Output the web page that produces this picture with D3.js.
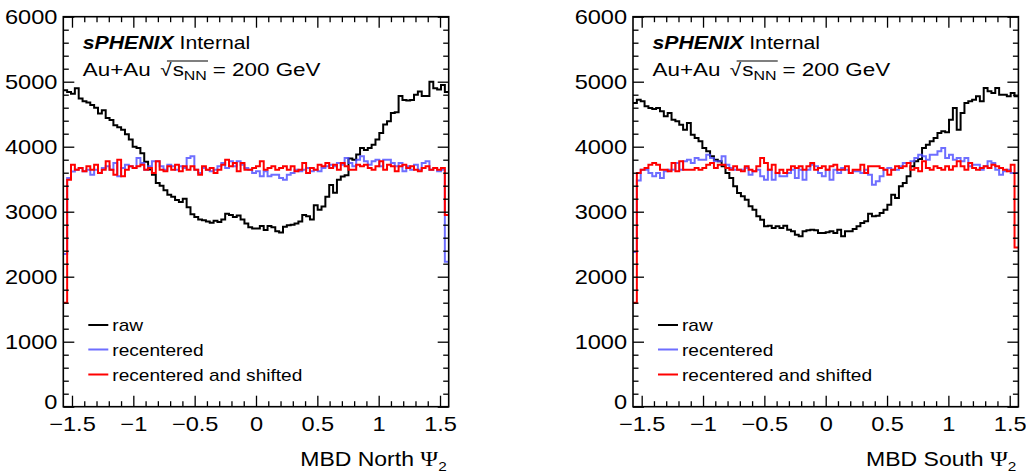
<!DOCTYPE html>
<html><head><meta charset="utf-8">
<script src="https://cdn.jsdelivr.net/npm/d3@7"></script>
<style>
body{margin:0;background:#fff}
svg{display:block}
text{font-family:"Liberation Sans",Arial,Helvetica,sans-serif;fill:#000}
</style>
</head><body><svg id="c" width="1026" height="474"></svg>
<script>
// ---------------- data ----------------
const nBins = 100;
const xRange = [-Math.PI / 2, Math.PI / 2];
const yRange = [0, 6000];
const yTicks = [0, 1000, 2000, 3000, 4000, 5000, 6000];
const yTickLabels = ["0", "1000", "2000", "3000", "4000", "5000", "6000"];
const xTicks = [-1.5, -1, -0.5, 0, 0.5, 1, 1.5];
const xTickLabels = ["\u22121.5", "\u22121", "\u22120.5", "0", "0.5", "1", "1.5"];
const legendLabels = ["raw", "recentered", "recentered and shifted"];
const panelTitles = ["MBD North", "MBD South"];

const northRaw = [4870,4840,4815,4900,4740,4700,4680,4640,4600,4510, 4560,4440,4410,4330,4300,4260,4190,4110,4000,3980,
  3900,3770,3650,3570,3440,3400,3330,3260,3230,3180, 3150,3200,3070,2960,2920,2880,2870,2850,2830,2860,
  2840,2880,2970,2950,2920,2940,2880,2820,2760,2740, 2740,2780,2720,2780,2760,2700,2680,2770,2790,2800,
  2820,2850,2950,2930,2880,3100,3030,3080,3230,3410, 3290,3490,3540,3560,3820,3800,3880,3980,3950,3980,
  4030,4110,4210,4340,4390,4520,4530,4780,4720,4710, 4720,4800,4850,4780,4780,5000,4900,4880,4950,4840];
const northRecentered = [2350,3520,3620,3646,3672,3621,3646,3570,3646,3595, 3672,3698,3646,3749,3544,3672,3723,3698,3672,3826,
  3749,3646,3698,3775,3775,3698,3646,3723,3698,3646, 3698,3672,3826,3852,3646,3595,3672,3646,3621,3646,
  3698,3749,3672,3775,3698,3775,3723,3672,3646,3595, 3621,3544,3621,3544,3570,3570,3518,3493,3570,3595,
  3646,3621,3646,3672,3621,3646,3621,3672,3698,3723, 3698,3749,3723,3826,3749,3698,3800,3852,3775,3723,
  3775,3800,3698,3800,3800,3749,3698,3749,3621,3698, 3646,3723,3646,3749,3775,3646,3672,3621,3646,2230];
const northShifted = [1600,3490,3723,3646,3672,3621,3698,3646,3723,3595, 3646,3775,3646,3570,3800,3544,3646,3698,3672,3698,
  3723,3646,3672,3595,3775,3646,3621,3698,3646,3723, 3621,3698,3646,3698,3646,3570,3698,3646,3672,3595,
  3646,3723,3800,3698,3749,3621,3749,3646,3646,3672, 3698,3775,3646,3672,3698,3646,3672,3698,3646,3698,
  3621,3646,3749,3595,3672,3646,3723,3698,3749,3672, 3723,3646,3749,3698,3646,3646,3723,3698,3723,3672,
  3646,3698,3775,3646,3723,3698,3621,3698,3723,3672, 3698,3646,3621,3672,3698,3646,3672,3646,3672,2950];

const southRaw = [4672,4723,4700,4621,4595,4580,4595,4544,4467,4518, 4416,4390,4339,4262,4365,4185,4134,4082,3980,3929,
  3852,3800,3775,3698,3595,3518,3390,3287,3236,3185, 3082,3031,2929,2877,2775,2785,2750,2775,2750,2785,
  2724,2698,2647,2621,2698,2713,2724,2713,2672,2672, 2682,2698,2672,2724,2621,2698,2698,2734,2775,2826,
  2852,2970,2929,2939,2980,3031,3108,3262,3211,3390, 3442,3544,3698,3775,3810,3980,4031,4082,4134,4211,
  4236,4221,4416,4595,4262,4518,4672,4698,4723,4775, 4698,4903,4852,4826,4903,4800,4800,4775,4826,4775];
const southRecentered = [2380,3480,3646,3646,3595,3544,3595,3518,3621,3646, 3646,3749,3646,3775,3800,3749,3826,3800,3800,3877,
  3826,3775,3775,3852,3723,3672,3646,3646,3646,3672, 3570,3621,3646,3544,3493,3646,3493,3595,3544,3544,
  3595,3646,3518,3646,3493,3646,3723,3698,3595,3544, 3646,3493,3646,3595,3672,3646,3595,3621,3621,3595,
  3646,3570,3416,3470,3544,3646,3672,3646,3646,3698, 3749,3749,3775,3826,3877,3852,3800,3877,3877,3929,
  3980,3826,3877,3800,3826,3775,3826,3698,3723,3723, 3646,3698,3775,3749,3646,3570,3621,3646,3595,3595];
const southShifted = [1600,3595,3646,3672,3723,3749,3723,3646,3646,3621, 3749,3621,3775,3646,3646,3646,3672,3646,3672,3723,
  3749,3672,3723,3723,3672,3646,3698,3646,3621,3698, 3646,3621,3698,3826,3749,3646,3723,3595,3646,3595,
  3646,3698,3672,3698,3646,3698,3749,3646,3672,3698, 3646,3698,3723,3646,3646,3698,3595,3646,3646,3723,
  3595,3698,3698,3698,3672,3646,3570,3646,3698,3672, 3698,3749,3646,3672,3621,3775,3672,3646,3698,3672,
  3646,3698,3646,3698,3775,3698,3646,3749,3672,3646, 3672,3698,3672,3723,3698,3672,3646,3621,3723,2450];

// ---------------- layout / style ----------------
const SX = 1.18;              // horizontal text stretch seen in the reference
const FONT = '"Liberation Sans",Arial,Helvetica,sans-serif';
const seriesStyle = [
  {color: "#000000", width: 2, opacity: 1},
  {color: "#4a4aff", width: 2, opacity: 0.8},
  {color: "#ff0000", width: 2, opacity: 1}
];
const panels = [
  {x0: 63.3, x1: 448.7, series: [northRaw, northRecentered, northShifted], title: panelTitles[0]},
  {x0: 633.0, x1: 1018.4, series: [southRaw, southRecentered, southShifted], title: panelTitles[1]}
];
const yTop = 16.7, yBot = 406.7;

const svg = d3.select("#c");
svg.append("rect").attr("width", 1026).attr("height", 474).attr("fill", "#fff");

function stext(g, x, y, anchor, size) {
  return g.append("g").attr("transform", `translate(${x},${y}) scale(${SX},1)`)
    .append("text").attr("text-anchor", anchor || "start").attr("font-size", size);
}

panels.forEach((p, pi) => {
  const g = svg.append("g");
  const x = d3.scaleLinear().domain(xRange).range([p.x0, p.x1]);
  const y = d3.scaleLinear().domain(yRange).range([yBot, yTop]);
  const edges = d3.range(nBins + 1).map(i => xRange[0] + i * (xRange[1] - xRange[0]) / nBins);

  // histograms
  const line = d3.line().x(d => x(d[0])).y(d => y(d[1])).curve(d3.curveStepAfter);
  p.series.forEach((vals, si) => {
    const pts = vals.map((v, i) => [edges[i], v]);
    pts.push([edges[nBins], vals[nBins - 1]]);
    const st = seriesStyle[si];
    g.append("path").attr("d", line(pts)).attr("fill", "none")
      .attr("stroke", st.color).attr("stroke-width", st.width)
      .attr("stroke-opacity", st.opacity).attr("stroke-linejoin", "miter");
  });

  // axes (ticks inward on all four sides)
  const yMinor = d3.range(200, 6000, 200).filter(v => v % 1000 !== 0);
  const xMinor = d3.range(-15, 16).map(v => v / 10).filter(v => Math.abs(v * 2 - Math.round(v * 2)) > 1e-6);
  const MAJ = 11, MIN = 5.5;

  function styleAxis(sel) {
    sel.select(".domain").remove();
    sel.selectAll(".tick line").attr("stroke", "#000").attr("stroke-width", 1.3);
  }
  // left
  const gl = g.append("g").attr("transform", `translate(${p.x0},0)`)
    .call(d3.axisLeft(y).tickValues(yTicks).tickFormat((d, i) => yTickLabels[i]).tickSize(-MAJ).tickPadding(5));
  styleAxis(gl);
  gl.selectAll(".tick text").attr("font-size", 20).attr("font-family", FONT).attr("fill", "#000")
    .attr("transform", (d) => d === 0 ? `translate(0,-4.5) scale(${SX},1)` : `scale(${SX},1)`);
  g.append("g").attr("transform", `translate(${p.x0},0)`)
    .call(d3.axisLeft(y).tickValues(yMinor).tickFormat("").tickSize(-MIN)).call(styleAxis);
  // right
  g.append("g").attr("transform", `translate(${p.x1},0)`)
    .call(d3.axisRight(y).tickValues(yTicks).tickFormat("").tickSize(-MAJ)).call(styleAxis);
  g.append("g").attr("transform", `translate(${p.x1},0)`)
    .call(d3.axisRight(y).tickValues(yMinor).tickFormat("").tickSize(-MIN)).call(styleAxis);
  // bottom
  const gb = g.append("g").attr("transform", `translate(0,${yBot})`)
    .call(d3.axisBottom(x).tickValues(xTicks).tickFormat((d, i) => xTickLabels[i]).tickSize(-MAJ).tickPadding(10));
  styleAxis(gb);
  gb.selectAll(".tick text").attr("font-size", 20).attr("font-family", FONT).attr("fill", "#000")
    .attr("transform", `scale(${SX},1)`);
  g.append("g").attr("transform", `translate(0,${yBot})`)
    .call(d3.axisBottom(x).tickValues(xMinor).tickFormat("").tickSize(-MIN)).call(styleAxis);
  // top
  g.append("g").attr("transform", `translate(0,${yTop})`)
    .call(d3.axisTop(x).tickValues(xTicks).tickFormat("").tickSize(-MAJ)).call(styleAxis);
  g.append("g").attr("transform", `translate(0,${yTop})`)
    .call(d3.axisTop(x).tickValues(xMinor).tickFormat("").tickSize(-MIN)).call(styleAxis);

  // frame
  g.append("rect").attr("x", p.x0).attr("y", yTop).attr("width", p.x1 - p.x0).attr("height", yBot - yTop)
    .attr("fill", "none").attr("stroke", "#000").attr("stroke-width", 1.6);

  // axis title
  const tt = stext(g, p.x1 - 2, 466, "end", 19.5);
  tt.append("tspan").text(p.title + " ");
  tt.append("tspan").attr("font-family", '"Liberation Serif","Times New Roman",serif').attr("font-size", 20.5).text("\u03A8");
  tt.append("tspan").attr("font-size", 13).attr("dy", 5).text("2");

  // sPHENIX label
  const ax = p.x0 + 19.5;
  const t1 = stext(g, ax, 49, "start", 18);
  t1.append("tspan").attr("font-weight", "bold").attr("font-style", "italic").text("sPHENIX");
  t1.append("tspan").text(" Internal");

  const gg = g.append("g").attr("transform", `translate(${ax},76) scale(${SX},1)`);
  const t2 = gg.append("text").attr("font-size", 19);
  t2.append("tspan").text("Au+Au");
  t2.append("tspan").attr("font-size", 17.5).attr("dx", 8).text("\u221A");
  t2.append("tspan").attr("dx", 1).text("s");
  t2.append("tspan").attr("font-size", 13.5).attr("dy", 4).text("NN");
  t2.append("tspan").attr("dy", -4).attr("dx", 5).text("= 200 GeV");
  // overline of the square root
  const node = t2.node();
  const full = node.textContent;
  const iS = full.indexOf("\u221A");
  const iN = full.indexOf("NN") + 1;
  const xa = node.getStartPositionOfChar(iS).x + 0.6 * (node.getEndPositionOfChar(iS).x - node.getStartPositionOfChar(iS).x);
  const xb = node.getEndPositionOfChar(iN).x + 1;
  gg.append("line").attr("x1", xa).attr("x2", xb).attr("y1", -15).attr("y2", -15)
    .attr("stroke", "#000").attr("stroke-width", 1);

  // legend
  const lx0 = p.x0 + 25, lx1 = p.x0 + 45;
  const ly = [325, 349.5, 374.5];
  legendLabels.forEach((lab, i) => {
    const st = seriesStyle[i];
    g.append("line").attr("x1", lx0).attr("x2", lx1).attr("y1", ly[i]).attr("y2", ly[i])
      .attr("stroke", st.color).attr("stroke-width", st.width).attr("stroke-opacity", st.opacity);
    stext(g, lx1 + 4, ly[i] + 6, "start", 16.2).text(lab);
  });
});
</script>
</body></html>
